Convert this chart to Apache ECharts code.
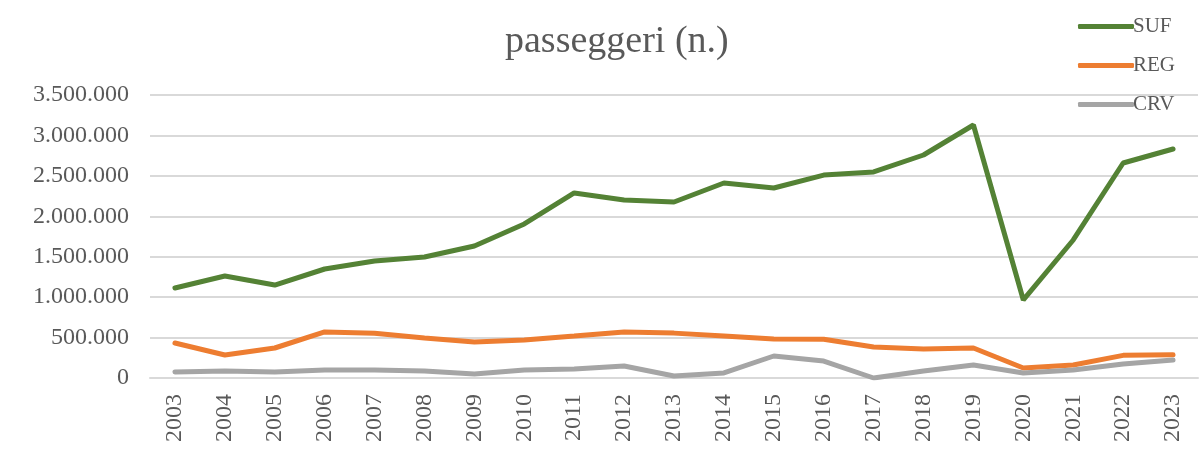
<!DOCTYPE html>
<html>
<head>
<meta charset="utf-8">
<script src="https://cdn.jsdelivr.net/npm/echarts@6/dist/echarts.min.js"></script>
<style>
  html, body { margin: 0; padding: 0; background: #fff; }
  #chart { width: 1203px; height: 462px; }
</style>
</head>
<body>
<div id="chart"></div>
<script>
const years = ['2003', '2004', '2005', '2006', '2007', '2008', '2009', '2010', '2011', '2012', '2013',
  '2014', '2015', '2016', '2017', '2018', '2019', '2020', '2021', '2022', '2023']
const suf = [1113000, 1261000, 1150000, 1348000, 1447000, 1496000, 1632000, 1905000, 2288000, 2201000, 2177000,
  2412000, 2350000, 2510000, 2548000, 2758000, 3129000, 965000, 1707000, 2659000, 2832000]
const reg = [433000, 284000, 371000, 569000, 553000, 495000, 445000, 470000, 519000, 569000, 555000,
  519000, 482000, 480000, 383000, 359000, 371000, 124000, 161000, 280000, 286000]
const crv = [74000, 87000, 74000, 99000, 99000, 87000, 49000, 99000, 111000, 148000, 25000,
  62000, 272000, 210000, 0, 87000, 161000, 62000, 99000, 173000, 223000]

const font = 'Liberation Serif'
const textColor = '#595959'

function fmt(v) {
  return String(v).replace(/\B(?=(\d{3})+(?!\d))/g, '.')
}

const chart = echarts.init(document.getElementById('chart'))
chart.setOption({
  animation: false,
  title: {
    text: 'passeggeri (n.)',
    left: 500,
    top: 18,
    textStyle: { fontFamily: font, fontSize: 38, fontWeight: 'normal', color: textColor }
  },
  legend: {
    orient: 'vertical',
    left: 1073,
    top: 11,
    icon: 'roundRect',
    itemWidth: 56,
    itemHeight: 5,
    itemGap: 18,
    textStyle: { fontFamily: font, fontSize: 21, color: textColor, padding: [0, 0, 0, -6] },
    data: ['SUF', 'REG', 'CRV']
  },
  grid: { left: 150, right: 5, top: 95, bottom: 84 },
  xAxis: {
    type: 'category',
    data: years,
    axisLine: { lineStyle: { color: '#D9D9D9', width: 2 } },
    axisTick: { show: false },
    axisLabel: { rotate: 90, fontFamily: font, fontSize: 24, color: textColor, margin: 16 }
  },
  yAxis: {
    type: 'value',
    min: 0,
    max: 3500000,
    interval: 500000,
    axisLine: { show: false },
    axisTick: { show: false },
    splitLine: { lineStyle: { color: '#D9D9D9', width: 2 } },
    axisLabel: { fontFamily: font, fontSize: 24, color: textColor, margin: 21, formatter: fmt }
  },
  series: [
    { name: 'SUF', type: 'line', data: suf, symbol: 'none', lineStyle: { width: 5, color: '#548235', cap: 'round' }, itemStyle: { color: '#548235' } },
    { name: 'REG', type: 'line', data: reg, symbol: 'none', lineStyle: { width: 5, color: '#ED7D31', cap: 'round' }, itemStyle: { color: '#ED7D31' } },
    { name: 'CRV', type: 'line', data: crv, symbol: 'none', lineStyle: { width: 5, color: '#A5A5A5', cap: 'round' }, itemStyle: { color: '#A5A5A5' } }
  ]
})
</script>
</body>
</html>
